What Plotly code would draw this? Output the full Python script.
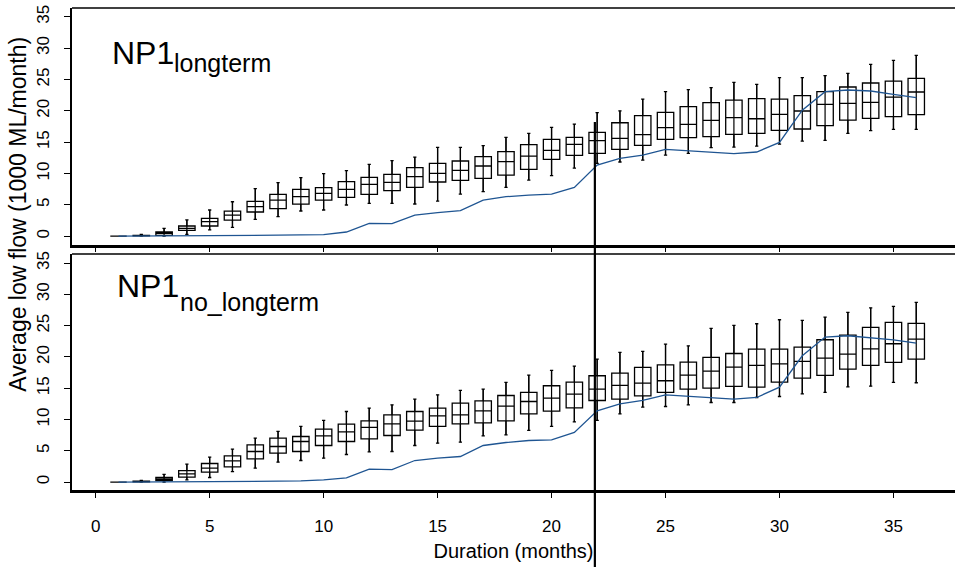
import plotly.graph_objects as go

months = list(range(1, 37))

# ---- top panel: NP1 longterm ----
top_lo = [0, 0, 0, 0.3, 1.0, 1.41, 2.69, 3.12, 4.02, 4.18, 4.98, 5.24, 5.24, 5.14, 5.61, 6.73, 7.1, 7.79,
          8.96, 9.65, 10.87, 11.62, 11.84, 12.15, 12.95, 13.22, 14.12, 14.22, 14.38, 14.7, 15.18, 15.29,
          16.41, 16.84, 17.05, 17.05]
top_q1 = [0, 0.05, 0.14, 0.94, 1.63, 2.58, 3.86, 4.39, 5.13, 5.77, 6.2, 6.68, 7.26, 7.79, 8.65, 8.91, 9.23,
          9.76, 10.66, 12.26, 12.9, 13.21, 13.85, 14.49, 15.45, 15.72, 15.88, 16.25, 16.4, 16.88, 17.1,
          17.63, 18.53, 18.79, 19.06, 19.38]
top_med = [0, 0.1, 0.45, 1.25, 2.32, 3.38, 4.71, 5.77, 6.3, 6.84, 7.47, 8.28, 8.59, 9.5, 10.03, 10.5, 11.2,
           11.89, 12.79, 13.69, 14.66, 15.24, 15.61, 16.19, 17.31, 17.84, 18.47, 18.9, 18.74, 19.44, 19.97,
           21.03, 21.19, 21.35, 22.2, 23.0]
top_q3 = [0, 0.15, 0.67, 1.63, 2.85, 4.0, 5.56, 6.68, 7.47, 7.74, 8.7, 9.39, 9.87, 10.93, 11.62, 12.0, 12.69,
          13.48, 14.6, 15.45, 15.77, 16.56, 18.1, 19.22, 19.75, 20.66, 21.3, 21.72, 21.93, 21.88, 22.41,
          23.05, 23.8, 24.44, 24.75, 25.18]
top_hi = [0, 0.3, 1.25, 2.6, 4.18, 5.5, 7.58, 8.54, 9.33, 9.97, 10.45, 11.46, 12.05, 12.63, 14.17, 14.17,
          14.44, 15.77, 16.41, 17.36, 17.89, 19.7, 20.0, 21.88, 23.05, 23.37, 23.69, 24.54, 24.22, 25.28,
          25.28, 25.6, 25.97, 27.41, 28.05, 28.85]
top_line = [0, 0.01, 0.02, 0.04, 0.06, 0.08, 0.12, 0.16, 0.2, 0.24, 0.67, 2.05, 2.0, 3.38, 3.75, 4.07, 5.77,
            6.3, 6.57, 6.73, 7.79, 11.35, 12.4, 12.95, 13.85, 13.64, 13.32, 13.16, 13.43, 14.97, 20.1,
            23.05, 23.32, 23.16, 22.63, 22.1]

# ---- bottom panel: NP1 no_longterm ----
bot_lo = [0, 0, 0, 0.37, 0.75, 1.7, 2.24, 3.2, 3.46, 3.84, 4.42, 4.85, 4.9, 5.86, 6.23, 6.39, 7.41, 7.57,
          8.26, 8.9, 9.64, 9.86, 10.92, 11.99, 12.09, 12.36, 12.73, 12.73, 13.53, 13.69, 14.12, 14.33,
          15.24, 15.34, 15.93, 15.88]
bot_q1 = [0, 0.05, 0.27, 0.8, 1.6, 2.45, 3.73, 4.64, 4.9, 5.86, 6.5, 6.93, 7.46, 8.31, 8.9, 9.32, 9.48, 9.8,
          10.92, 11.35, 11.88, 13.05, 13.27, 13.8, 14.33, 14.86, 15.02, 15.29, 15.18, 15.98, 16.62, 17.05,
          18.06, 18.65, 19.13, 19.66]
bot_med = [0, 0.1, 0.48, 1.33, 2.24, 3.41, 4.9, 5.7, 6.5, 7.41, 8.04, 8.74, 9.32, 9.75, 10.6, 10.76, 11.4,
           12.15, 12.89, 13.43, 14.07, 14.86, 15.45, 15.82, 16.2, 17.1, 17.74, 18.38, 18.65, 18.91, 19.29,
           19.82, 20.46, 21.31, 22.11, 22.86]
bot_q3 = [0, 0.15, 0.75, 1.86, 2.98, 4.21, 5.97, 7.03, 7.3, 8.47, 9.27, 9.8, 10.76, 11.29, 11.83, 12.63, 13.0,
          13.85, 14.33, 15.4, 15.98, 17.0, 17.42, 18.33, 18.75, 19.18, 19.93, 20.56, 21.26, 21.26, 21.58,
          22.75, 23.5, 24.72, 25.52, 25.36]
bot_hi = [0, 0.27, 1.23, 2.88, 4.0, 5.27, 7.03, 8.1, 8.9, 9.86, 11.29, 11.83, 12.36, 13.27, 13.96, 14.65,
          14.86, 15.93, 17.1, 17.85, 18.54, 19.66, 20.72, 20.88, 22.06, 21.79, 24.56, 25.04, 25.31, 25.95,
          25.84, 26.37, 27.12, 27.86, 28.08, 28.72]
bot_line = [0, 0.01, 0.02, 0.04, 0.06, 0.08, 0.12, 0.16, 0.22, 0.37, 0.69, 2.08, 2.02, 3.46, 3.84, 4.1, 5.86,
            6.34, 6.66, 6.77, 7.94, 11.4, 12.5, 13.05, 13.96, 13.69, 13.43, 13.27, 13.53, 15.18, 20.19,
            23.18, 23.39, 23.12, 22.75, 22.22]

x_ticks = [0, 5, 10, 15, 20, 25, 30, 35]
y_ticks = [0, 5, 10, 15, 20, 25, 30, 35]
cut_month = 21.9

FONT = "Liberation Sans, Arial, sans-serif"
LINE_BLUE = "#1f5592"

fig = go.Figure()


def add_panel(xa, ya, lo, q1, med, q3, hi, line):
    # whisker line running through the box
    sx, sy = [], []
    for m, a, b in zip(months, lo, hi):
        sx += [m, m, None]
        sy += [a, b, None]
    fig.add_trace(go.Scatter(x=sx, y=sy, mode="lines", line=dict(color="black", width=1.2),
                             xaxis=xa, yaxis=ya, showlegend=False, hoverinfo="skip"))
    fig.add_trace(go.Box(x=months, q1=q1, median=med, q3=q3, lowerfence=lo, upperfence=hi,
                         width=0.72, whiskerwidth=0.2, fillcolor="rgba(0,0,0,0)",
                         line=dict(color="black", width=1.3), boxpoints=False,
                         xaxis=xa, yaxis=ya, showlegend=False))
    fig.add_trace(go.Scatter(x=months, y=line, mode="lines", line=dict(color=LINE_BLUE, width=1.3),
                             xaxis=xa, yaxis=ya, showlegend=False))


add_panel("x2", "y2", top_lo, top_q1, top_med, top_q3, top_hi, top_line)
add_panel("x", "y", bot_lo, bot_q1, bot_med, bot_q3, bot_hi, bot_line)

common_y = dict(tickvals=y_ticks, ticks="outside", ticklen=6, tickwidth=1, tickcolor="black",
                tickangle=-90, tickfont=dict(family=FONT, size=17, color="black"),
                showline=True, linewidth=2, linecolor="black", showgrid=False, zeroline=False,
                ticklabelstandoff=8)

fig.update_layout(
    width=955, height=567,
    margin=dict(l=72, r=0, t=8, b=77),
    paper_bgcolor="white", plot_bgcolor="white",
    font=dict(family=FONT, color="black"),
    xaxis=dict(domain=[0, 1], anchor="y", range=[-1.04, 37.7], tickvals=x_ticks,
               ticks="outside", ticklen=5, tickwidth=1, tickcolor="black",
               tickfont=dict(family=FONT, size=17, color="black"), ticklabelstandoff=14,
               showline=True, linewidth=2.5, linecolor="black", showgrid=False, zeroline=False,
               title=dict(text="Duration (months)", font=dict(family=FONT, size=20, color="black"),
                          standoff=9)),
    xaxis2=dict(domain=[0, 1], anchor="y2", range=[-1.04, 37.7], tickvals=x_ticks, matches="x",
                ticks="outside", ticklen=4, tickwidth=1, tickcolor="black", showticklabels=False,
                showline=True, linewidth=2.5, linecolor="black", showgrid=False, zeroline=False),
    yaxis=dict(domain=[0, 0.4896], anchor="x", range=[-1.25, 36.45], **common_y),
    yaxis2=dict(domain=[0.5083, 1], anchor="x2", range=[-1.4, 36.4], **common_y),
)

# top borders of the two panels
for y0 in (1.0, 0.4896):
    fig.add_shape(type="line", xref="paper", yref="paper", x0=0, x1=1, y0=y0, y1=y0,
                  line=dict(color="black", width=1.4))

# vertical marker line
fig.add_shape(type="line", xref="x", yref="paper", x0=cut_month, x1=cut_month, y0=-0.16, y1=0.7635,
              line=dict(color="black", width=2.2))

# y axis title
fig.add_annotation(text="Average low flow (1000 ML/month)", xref="paper", yref="paper",
                   x=(18 - 72) / 883, y=0.571, textangle=-90, showarrow=False,
                   font=dict(family=FONT, size=23, color="black"), xanchor="center", yanchor="middle")

# panel labels
fig.add_annotation(text="NP1", xref="x2", yref="y2", x=0.63, y=29.3, xanchor="left", yanchor="middle",
                   showarrow=False, font=dict(family=FONT, size=32, color="black"))
fig.add_annotation(text="longterm", xref="x2", yref="y2", x=3.36, y=27.7, xanchor="left", yanchor="middle",
                   showarrow=False, font=dict(family=FONT, size=25, color="black"))
fig.add_annotation(text="NP1", xref="x", yref="y", x=0.85, y=31.3, xanchor="left", yanchor="middle",
                   showarrow=False, font=dict(family=FONT, size=32, color="black"))
fig.add_annotation(text="no_longterm", xref="x", yref="y", x=3.62, y=28.8, xanchor="left", yanchor="middle",
                   showarrow=False, font=dict(family=FONT, size=25, color="black"))

fig.write_html("out.html")
